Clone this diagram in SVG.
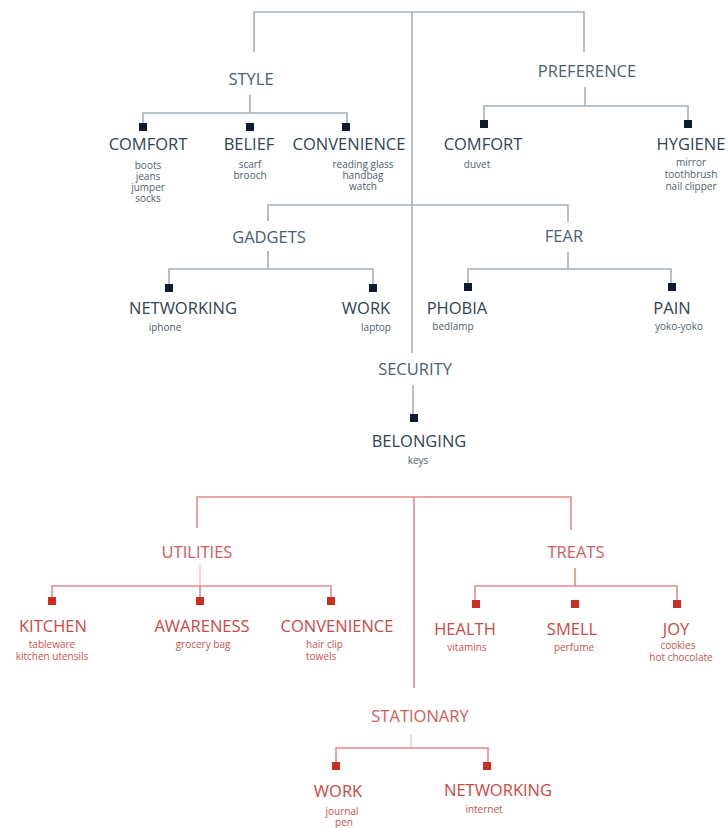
<svg xmlns="http://www.w3.org/2000/svg" width="728" height="828" viewBox="0 0 728 828">
  <style>
    text { font-family: "Open Sans", "Noto Sans", "Liberation Sans", sans-serif; text-anchor: middle; }
    .g-head { font-size: 16.5px; fill: #4d6070; }
    .g-lab { font-size: 16.5px; fill: #33434f; }
    .g-item { font-size: 10px; fill: #4f5d69; }
    .r-head { font-size: 16.5px; fill: #d65a5a; }
    .r-lab { font-size: 16.5px; fill: #cf4646; }
    .r-item { font-size: 10px; fill: #cf4f4f; }
    .g-line { stroke: #a6b0b7; stroke-width: 1.6; fill: none; }
    .r-line { stroke: #e58b8b; stroke-width: 1.6; fill: none; }
    .r-faint { stroke: #efb8b8; stroke-width: 1.2; fill: none; }
    .g-sq { fill: #0f1b2c; }
    .r-sq { fill: #cc2c22; }
  </style>
  <rect x="0" y="0" width="728" height="828" fill="#ffffff"/>

  <g id="connectors">
    <!-- grey tree -->
    <path class="g-line" d="M254 52 V12 H584 V52"/>
    <path class="g-line" d="M412 12 V353"/>
    <path class="g-line" d="M250 95 V113 M143 127 V113 H347 V127"/>
    <path class="g-line" d="M585 87 V106 M484 124 V106 H688 V124"/>
    <path class="g-line" d="M268 221 V205 H568 V222"/>
    <path class="g-line" d="M268 251 V269 M169 287 V269 H373 V287"/>
    <path class="g-line" d="M568 252 V269 M468 287 V269 H671 V287"/>
    <path class="g-line" d="M413 385 V418"/>
    <!-- red tree -->
    <path class="r-line" d="M197 528 V497 H571 V530"/>
    <path class="r-line" d="M414 497 V688"/>
    <path class="r-faint" d="M200 565 V586"/>
    <path class="r-line" d="M52 600 V586 H331 V600 M200 586 V600"/>
    <path class="r-line" d="M575 568 V586 M475 603 V586 H677 V603"/>
    <path class="r-faint" d="M411 735 V748"/>
    <path class="r-line" d="M336 765 V748 H488 V765"/>
  </g>

  <!-- grey branch: STYLE -->
  <g id="style">
    <text class="g-head" x="251" y="85">STYLE</text>
  </g>
  <g id="style-comfort">
    <rect class="g-sq" x="139" y="123" width="8" height="8"/>
    <text class="g-lab" x="148" y="150">COMFORT</text>
    <text class="g-item" x="148" y="169">boots</text>
    <text class="g-item" x="148" y="180">jeans</text>
    <text class="g-item" x="148" y="191">jumper</text>
    <text class="g-item" x="148" y="202">socks</text>
  </g>
  <g id="style-belief">
    <rect class="g-sq" x="246" y="123" width="8" height="8"/>
    <text class="g-lab" x="249" y="150">BELIEF</text>
    <text class="g-item" x="250" y="168">scarf</text>
    <text class="g-item" x="250" y="179">brooch</text>
  </g>
  <g id="style-convenience">
    <rect class="g-sq" x="342" y="123" width="8" height="8"/>
    <text class="g-lab" x="349" y="150">CONVENIENCE</text>
    <text class="g-item" x="363" y="168">reading glass</text>
    <text class="g-item" x="363" y="179">handbag</text>
    <text class="g-item" x="363" y="190">watch</text>
  </g>

  <!-- grey branch: PREFERENCE -->
  <g id="preference">
    <text class="g-head" x="587" y="77">PREFERENCE</text>
  </g>
  <g id="preference-comfort">
    <rect class="g-sq" x="480" y="120" width="8" height="8"/>
    <text class="g-lab" x="483" y="150">COMFORT</text>
    <text class="g-item" x="477" y="168">duvet</text>
  </g>
  <g id="preference-hygiene">
    <rect class="g-sq" x="684" y="120" width="8" height="8"/>
    <text class="g-lab" x="691" y="150">HYGIENE</text>
    <text class="g-item" x="691" y="166">mirror</text>
    <text class="g-item" x="691" y="178">toothbrush</text>
    <text class="g-item" x="691" y="190">nail clipper</text>
  </g>

  <!-- grey branch: GADGETS -->
  <g id="gadgets">
    <text class="g-head" x="269" y="243">GADGETS</text>
  </g>
  <g id="gadgets-networking">
    <rect class="g-sq" x="165" y="284" width="8" height="8"/>
    <text class="g-lab" x="183" y="314">NETWORKING</text>
    <text class="g-item" x="165" y="331">iphone</text>
  </g>
  <g id="gadgets-work">
    <rect class="g-sq" x="369" y="284" width="8" height="8"/>
    <text class="g-lab" x="366" y="314">WORK</text>
    <text class="g-item" x="376" y="331">laptop</text>
  </g>

  <!-- grey branch: FEAR -->
  <g id="fear">
    <text class="g-head" x="564" y="242">FEAR</text>
  </g>
  <g id="fear-phobia">
    <rect class="g-sq" x="464" y="283" width="8" height="8"/>
    <text class="g-lab" x="457" y="314">PHOBIA</text>
    <text class="g-item" x="453" y="330">bedlamp</text>
  </g>
  <g id="fear-pain">
    <rect class="g-sq" x="668" y="283" width="8" height="8"/>
    <text class="g-lab" x="672" y="314">PAIN</text>
    <text class="g-item" x="679" y="330">yoko-yoko</text>
  </g>

  <!-- grey branch: SECURITY -->
  <g id="security">
    <text class="g-head" x="415" y="375">SECURITY</text>
  </g>
  <g id="security-belonging">
    <rect class="g-sq" x="410" y="414" width="8" height="8"/>
    <text class="g-lab" x="419" y="447">BELONGING</text>
    <text class="g-item" x="418" y="464">keys</text>
  </g>

  <!-- red branch: UTILITIES -->
  <g id="utilities">
    <text class="r-head" x="197" y="558">UTILITIES</text>
  </g>
  <g id="utilities-kitchen">
    <rect class="r-sq" x="48" y="597" width="8" height="8"/>
    <text class="r-lab" x="53" y="632">KITCHEN</text>
    <text class="r-item" x="52" y="648">tableware</text>
    <text class="r-item" x="52" y="660">kitchen utensils</text>
  </g>
  <g id="utilities-awareness">
    <rect class="r-sq" x="196" y="597" width="8" height="8"/>
    <text class="r-lab" x="202" y="632">AWARENESS</text>
    <text class="r-item" x="203" y="648">grocery bag</text>
  </g>
  <g id="utilities-convenience">
    <rect class="r-sq" x="327" y="597" width="8" height="8"/>
    <text class="r-lab" x="337" y="632">CONVENIENCE</text>
    <text class="r-item" x="306" y="648" style="text-anchor:start">hair clip</text>
    <text class="r-item" x="306" y="660" style="text-anchor:start">towels</text>
  </g>

  <!-- red branch: TREATS -->
  <g id="treats">
    <text class="r-head" x="576" y="558">TREATS</text>
  </g>
  <g id="treats-health">
    <rect class="r-sq" x="472" y="600" width="8" height="8"/>
    <text class="r-lab" x="465" y="635">HEALTH</text>
    <text class="r-item" x="467" y="651">vitamins</text>
  </g>
  <g id="treats-smell">
    <rect class="r-sq" x="571" y="600" width="8" height="8"/>
    <text class="r-lab" x="572" y="635">SMELL</text>
    <text class="r-item" x="574" y="651">perfume</text>
  </g>
  <g id="treats-joy">
    <rect class="r-sq" x="673" y="600" width="8" height="8"/>
    <text class="r-lab" x="676" y="635">JOY</text>
    <text class="r-item" x="678" y="649">cookies</text>
    <text class="r-item" x="681" y="661">hot chocolate</text>
  </g>

  <!-- red branch: STATIONARY -->
  <g id="stationary">
    <text class="r-head" x="420" y="722">STATIONARY</text>
  </g>
  <g id="stationary-work">
    <rect class="r-sq" x="332" y="762" width="8" height="8"/>
    <text class="r-lab" x="338" y="797">WORK</text>
    <text class="r-item" x="342" y="815">journal</text>
    <text class="r-item" x="344" y="826">pen</text>
  </g>
  <g id="stationary-networking">
    <rect class="r-sq" x="483" y="762" width="8" height="8"/>
    <text class="r-lab" x="498" y="796">NETWORKING</text>
    <text class="r-item" x="484" y="813">internet</text>
  </g>
</svg>
